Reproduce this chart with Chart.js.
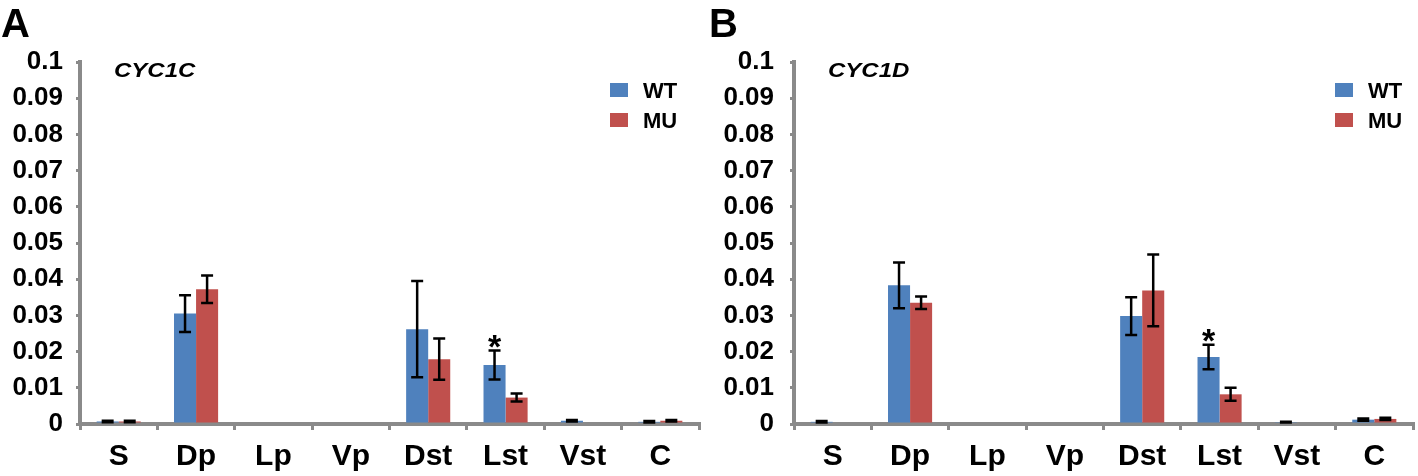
<!DOCTYPE html>
<html>
<head>
<meta charset="utf-8">
<script src="https://cdn.jsdelivr.net/npm/chart.js@4.4.1/dist/chart.umd.min.js"></script>
<style>
html, body { margin: 0; padding: 0; background: #fff; }
#wrap { position: relative; width: 1418px; height: 476px; overflow: hidden; }
canvas { position: absolute; top: 0; }
</style>
</head>
<body>
<div id="wrap">
  <canvas id="chartA" width="709" height="476" style="left:0;width:709px;height:476px"></canvas>
  <canvas id="chartB" width="709" height="476" style="left:709px;width:709px;height:476px"></canvas>
</div>
<script>
// tissues on the x axis
const categories = ['S', 'Dp', 'Lp', 'Vp', 'Dst', 'Lst', 'Vst', 'C'];
const yTickLabels = ['0', '0.01', '0.02', '0.03', '0.04', '0.05', '0.06', '0.07', '0.08', '0.09', '0.1'];
const seriesNames = ['WT', 'MU'];

// panel A - CYC1C
const wtA    = [0.0007, 0.0305, 0, 0, 0.0262, 0.0163, 0.0009, 0.0006];
const wtErrA = [0.0002, 0.0051, 0, 0, 0.0133, 0.0040, 0.0002, 0.0002];
const muA    = [0.0007, 0.0372, 0, 0, 0.0179, 0.0073, 0, 0.0009];
const muErrA = [0.0002, 0.0038, 0, 0, 0.0057, 0.0011, 0, 0.0002];
const starsA = ['', '', '', '', '', '*', '', ''];

// panel B - CYC1D
const wtB    = [0.0006, 0.0383, 0, 0, 0.0298, 0.0185, 0.0005, 0.0012];
const wtErrB = [0.0002, 0.0063, 0, 0, 0.0052, 0.0034, 0.0001, 0.0003];
const muB    = [0, 0.0335, 0, 0, 0.0369, 0.0082, 0, 0.0014];
const muErrB = [0, 0.0017, 0, 0, 0.0099, 0.0018, 0, 0.0003];
const starsB = ['', '', '', '', '', '*', '', ''];

const BLUE = '#4f81bd';
const RED = '#c0504d';
const AXIS_GREY = '#8a8a8a';
const ARIAL = '"Liberation Sans", Arial, sans-serif';

// error bars + significance stars, positioned from the bar elements
const errorBars = {
  id: 'errorBars',
  afterDatasetsDraw(chart) {
    const ctx = chart.ctx;
    const y = chart.scales.y;
    ctx.save();
    ctx.strokeStyle = '#000';
    ctx.lineWidth = 2.5;
    chart.data.datasets.forEach((ds, i) => {
      const meta = chart.getDatasetMeta(i);
      meta.data.forEach((bar, j) => {
        const v = ds.data[j], e = ds.errors[j];
        if (!v && !e) return;
        const top = y.getPixelForValue(v + e);
        const bot = y.getPixelForValue(v - e);
        const x = bar.x;
        ctx.beginPath();
        ctx.moveTo(x, top); ctx.lineTo(x, bot);
        ctx.moveTo(x - 6, top); ctx.lineTo(x + 6, top);
        ctx.moveTo(x - 6, bot); ctx.lineTo(x + 6, bot);
        ctx.stroke();
        if (ds.stars && ds.stars[j]) {
          ctx.fillStyle = '#000';
          ctx.font = 'bold 34px ' + ARIAL;
          ctx.textAlign = 'center';
          ctx.textBaseline = 'alphabetic';
          ctx.fillText(ds.stars[j], x, top + 7);
        }
      });
    });
    ctx.restore();
  }
};

// panel letter, gene name and the little legend
const annotate = {
  id: 'annotate',
  afterDraw(chart, args, opts) {
    const ctx = chart.ctx;
    const area = chart.chartArea;
    ctx.save();
    ctx.fillStyle = '#000';
    ctx.textBaseline = 'alphabetic';
    ctx.textAlign = 'left';
    ctx.font = 'bold 40px ' + ARIAL;
    ctx.fillText(opts.letter, opts.letterX, 37);

    // gene name is squashed wide in the source figure
    ctx.save();
    ctx.translate(area.left + 34, 77);
    ctx.scale(1.2, 1);
    ctx.font = 'italic bold 20px ' + ARIAL;
    ctx.fillText(opts.gene, 0, 0);
    ctx.restore();

    chart.data.datasets.forEach((ds, i) => {
      const top = 83 + i * 30;
      ctx.fillStyle = ds.backgroundColor;
      ctx.fillRect(opts.legendX, top, 18, 14);
      ctx.fillStyle = '#000';
      ctx.font = 'bold 22px ' + ARIAL;
      ctx.fillText(ds.label, opts.legendX + 33, top + 15);
    });
    ctx.restore();
  }
};

function makeChart(id, p) {
  const ctx = document.getElementById(id).getContext('2d');
  return new Chart(ctx, {
    type: 'bar',
    data: {
      labels: categories,
      datasets: [
        { label: seriesNames[0], data: p.wt, errors: p.wtErr, stars: p.stars, backgroundColor: BLUE, borderWidth: 0 },
        { label: seriesNames[1], data: p.mu, errors: p.muErr, backgroundColor: RED, borderWidth: 0 }
      ]
    },
    options: {
      responsive: false,
      animation: false,
      devicePixelRatio: 1,
      categoryPercentage: 0.57,
      barPercentage: 1,
      layout: { padding: { top: 62, right: p.padRight, bottom: 0, left: 0 } },
      plugins: {
        legend: { display: false },
        tooltip: { enabled: false },
        annotate: { letter: p.letter, letterX: p.letterX, gene: p.gene, legendX: p.legendX }
      },
      scales: {
        x: {
          grid: { offset: true, drawOnChartArea: false, drawTicks: true, tickLength: 6, color: AXIS_GREY, lineWidth: 3 },
          border: { color: AXIS_GREY, width: 4 },
          ticks: { color: '#000', font: { family: ARIAL, size: 30, weight: 'bold' }, padding: 9, maxRotation: 0, autoSkip: false },
          afterFit(s) { s.height = 52; }
        },
        y: {
          min: 0,
          max: 0.1,
          grid: { drawOnChartArea: false, drawTicks: true, tickLength: 4, color: AXIS_GREY, lineWidth: 3 },
          border: { color: AXIS_GREY, width: 4 },
          ticks: {
            stepSize: 0.01,
            callback: (v, i) => yTickLabels[i],
            color: '#000',
            font: { family: ARIAL, size: 26, weight: 'bold' },
            padding: p.tickPad
          },
          afterFit(s) { s.width = p.axisWidth; }
        }
      }
    },
    plugins: [errorBars, annotate]
  });
}

makeChart('chartA', {
  wt: wtA, wtErr: wtErrA, mu: muA, muErr: muErrA, stars: starsA,
  letter: 'A', letterX: 1, gene: 'CYC1C', legendX: 610,
  axisWidth: 80, padRight: 10, tickPad: 13
});
makeChart('chartB', {
  wt: wtB, wtErr: wtErrB, mu: muB, muErr: muErrB, stars: starsB,
  letter: 'B', letterX: 0, gene: 'CYC1D', legendX: 626,
  axisWidth: 85, padRight: 5, tickPad: 16
});
</script>
</body>
</html>
